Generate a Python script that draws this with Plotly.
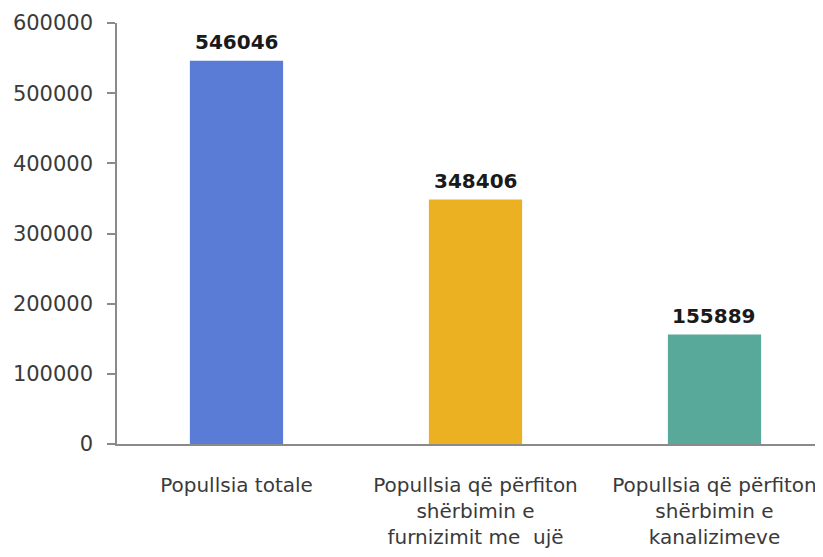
import plotly.graph_objects as go

categories = [
    "Popullsia totale",
    "Popullsia që përfiton<br>shërbimin e<br>furnizimit me  ujë",
    "Popullsia që përfiton<br>shërbimin e<br>kanalizimeve",
]
values = [546046, 348406, 155889]
colors = ["#5B7CD6", "#EBB122", "#59A99B"]
tick_vals = [0, 100000, 200000, 300000, 400000, 500000, 600000]

FONT = "DejaVu Sans"

fig = go.Figure()
fig.add_trace(go.Bar(
    x=list(range(len(categories))),
    y=values,
    marker=dict(color=colors, line=dict(width=0)),
    width=0.39,
    hoverinfo="skip",
))

for i, v in enumerate(values):
    fig.add_annotation(
        x=i, y=v, text=f"<b>{v}</b>", showarrow=False,
        yanchor="bottom", yshift=5,
        font=dict(family=FONT, size=20, color="#1a1a1a"),
    )

fig.update_layout(
    width=815, height=549,
    margin=dict(l=109, r=0, t=15, b=113),
    paper_bgcolor="white", plot_bgcolor="white",
    showlegend=False,
    bargap=0.6,
    font=dict(family=FONT, color="#3a3a3a"),
)
fig.update_xaxes(
    range=[-0.5, 2.454],
    tickmode="array",
    tickvals=list(range(len(categories))),
    ticktext=categories,
    tickfont=dict(family=FONT, size=20, color="#3a3a3a"),
    showline=True, linecolor="#8a8a8a", linewidth=1.5,
    ticks="", ticklabelstandoff=22,
    showgrid=False, zeroline=False,
)
fig.update_yaxes(
    range=[0, 600000],
    tickmode="array",
    tickvals=tick_vals,
    ticktext=[str(t) for t in tick_vals],
    tickfont=dict(family=FONT, size=21, color="#3a3a3a"),
    showline=True, linecolor="#8a8a8a", linewidth=1.5,
    ticks="outside", ticklen=8, tickcolor="#8a8a8a", tickwidth=1.5,
    ticklabelstandoff=10,
    showgrid=False, zeroline=False,
)

fig.write_html("out.html")
